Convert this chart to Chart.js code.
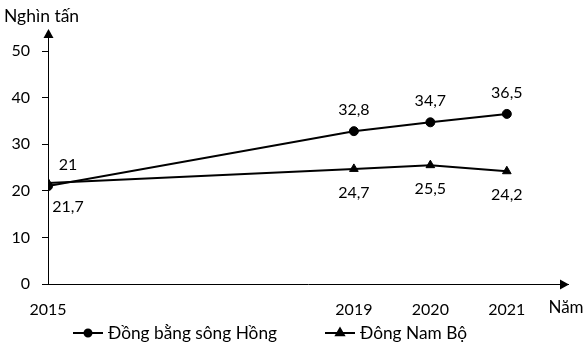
<!DOCTYPE html>
<html>
<head>
<meta charset="utf-8">
<script src="https://cdn.jsdelivr.net/npm/chart.js@4/dist/chart.umd.min.js"></script>
<style>
    html, body { margin: 0; padding: 0; background: #fff; }
    #wrap { width: 586px; height: 348px; }
</style>
</head>
<body>
<div id="wrap"><canvas id="chart"></canvas></div>
<script>
const years = [2015, 2019, 2020, 2021];
const hongValues = [21, 32.8, 34.7, 36.5];
const namBoValues = [21.7, 24.7, 25.5, 24.2];
const seriesNames = ["Đồng bằng sông Hồng", "Đông Nam Bộ"];
const yTicks = [0, 10, 20, 30, 40, 50];

const FONT = "Lato, 'Open Sans', sans-serif";

function toPoints(values) {
    return values.map((v, i) => ({x: years[i], y: v}));
}

function fmt(v) {
    return String(v).replace(".", ",");
}

// axis arrows, captions, value labels and the legend row
const extras = {
    id: "extras",
    afterDraw(chart) {
        const ctx = chart.ctx;
        const area = chart.chartArea;
        ctx.save();
        ctx.strokeStyle = "#000";
        ctx.fillStyle = "#000";
        ctx.lineWidth = 1;

        // y axis continues up to an arrow
        ctx.beginPath();
        ctx.moveTo(area.left + 0.5, area.top);
        ctx.lineTo(area.left + 0.5, 36);
        ctx.stroke();
        ctx.beginPath();
        ctx.moveTo(area.left + 0.5, 29);
        ctx.lineTo(area.left - 4.5, 38);
        ctx.lineTo(area.left + 5.5, 38);
        ctx.closePath();
        ctx.fill();

        // x axis arrow
        const yb = area.bottom + 0.5;
        ctx.beginPath();
        ctx.moveTo(area.right + 1, yb);
        ctx.lineTo(area.right - 8, yb - 5);
        ctx.lineTo(area.right - 8, yb + 5);
        ctx.closePath();
        ctx.fill();

        ctx.textBaseline = "middle";
        ctx.textAlign = "left";
        ctx.font = "17.5px " + FONT;
        ctx.fillText("Nghìn tấn", 4, 16);
        ctx.font = "17px " + FONT;
        ctx.textAlign = "center";
        ctx.fillText("Năm", 566, 308);
        ctx.font = "16px " + FONT;

        // value labels
        const hong = chart.getDatasetMeta(0).data;
        const namBo = chart.getDatasetMeta(1).data;
        hong.forEach((p, i) => {
            const dx = i === 0 ? 20 : 0;
            ctx.fillText(fmt(hongValues[i]), p.x + dx, p.y - 21);
        });
        namBo.forEach((p, i) => {
            const dx = i === 0 ? 20 : 0;
            ctx.fillText(fmt(namBoValues[i]), p.x + dx, p.y + 24);
        });

        // legend
        const ly = 333;
        const items = [[73, "circle", 3.5], [325, "triangle", 4.5]];
        ctx.font = "17.3px " + FONT;
        items.forEach((it, k) => {
            const x0 = it[0];
            ctx.lineWidth = 2;
            ctx.beginPath();
            ctx.moveTo(x0, ly);
            ctx.lineTo(x0 + 30, ly);
            ctx.stroke();
            Chart.helpers.drawPoint(ctx, {
                pointStyle: it[1],
                radius: it[2],
                borderWidth: 1,
                rotation: 0
            }, x0 + 15, ly);
            ctx.textAlign = "left";
            ctx.fillText(seriesNames[k], x0 + 35, ly);
        });
        ctx.restore();
    }
};

new Chart(document.getElementById("chart"), {
    type: "line",
    data: {
        datasets: [{
                label: seriesNames[0],
                data: toPoints(hongValues),
                borderColor: "#000",
                backgroundColor: "#000",
                borderWidth: 2,
                pointStyle: "circle",
                pointRadius: 4.5,
                pointBorderWidth: 1,
                tension: 0
            }, {
                label: seriesNames[1],
                data: toPoints(namBoValues),
                borderColor: "#000",
                backgroundColor: "#000",
                borderWidth: 2,
                pointStyle: "triangle",
                pointRadius: 5,
                pointBorderWidth: 1,
                tension: 0
            }]
    },
    options: {
        responsive: true,
        maintainAspectRatio: false,
        animation: false,
        layout: {padding: {top: 51, right: 18, bottom: 30, left: 0}},
        plugins: {
            legend: {display: false},
            tooltip: {enabled: false}
        },
        scales: {
            x: {
                type: "linear",
                min: 2015,
                max: 2021.8,
                afterBuildTicks: s => { s.ticks = years.map(v => ({value: v})); },
                afterFit: s => { s.height = 34; },
                grid: {display: false, drawTicks: false},
                border: {color: "#000", width: 1},
                ticks: {
                    color: "#000",
                    padding: 16,
                    maxRotation: 0,
                    autoSkip: false,
                    font: {family: FONT, size: 16},
                    callback: v => String(v)
                }
            },
            y: {
                min: 0,
                max: 50,
                afterBuildTicks: s => { s.ticks = yTicks.map(v => ({value: v})); },
                afterFit: s => { s.width = 48; },
                grid: {drawOnChartArea: false, tickLength: 6, color: "#000"},
                border: {color: "#000", width: 1},
                ticks: {
                    color: "#000",
                    padding: 12,
                    font: {family: FONT, size: 16}
                }
            }
        }
    },
    plugins: [extras]
});
</script>
</body>
</html>
